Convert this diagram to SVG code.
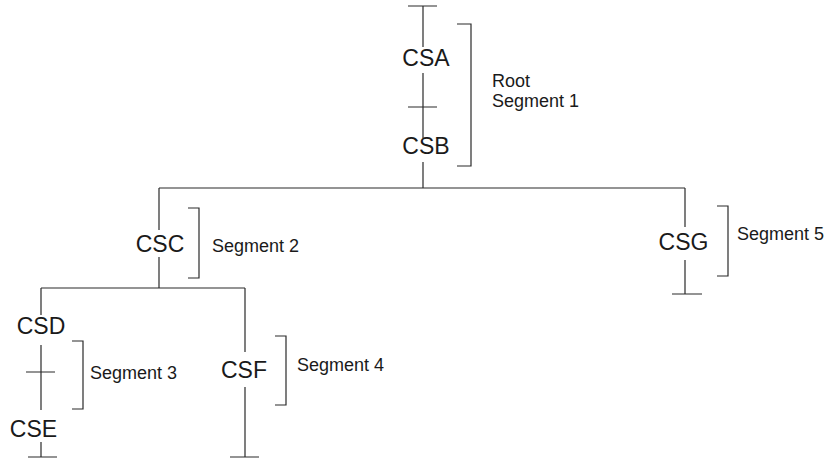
<svg xmlns="http://www.w3.org/2000/svg" width="828" height="459" viewBox="0 0 828 459">
<style>
.ln{stroke:#2a2a2a;stroke-width:1.2;fill:none}
.br{stroke:#2a2a2a;stroke-width:1.2;fill:none}
.nd{font-family:"Liberation Sans",Arial,sans-serif;font-size:23px;fill:#1a1a1a;text-anchor:middle}
.lb{font-family:"Liberation Sans",Arial,sans-serif;font-size:18px;fill:#1a1a1a}
</style>
<rect width="828" height="459" fill="#ffffff"/>
<g id="connectors">
<path class="ln" d="M408,6H437M423,6V47M423,73V138M408,107H437M423,162V188"/>
<path class="ln" d="M159,188H685M159,188V230M685,188V227"/>
<path class="ln" d="M159,257V288M41,288H245M41,288V315M245,288V352"/>
<path class="ln" d="M41,345V410M26,372H55M41,442V457M28,457H57"/>
<path class="ln" d="M245,387V457M230,457H259"/>
<path class="ln" d="M685,260V294M672,294H702"/>
</g>
<g id="node-CSA"><text class="nd" x="426" y="66">CSA</text></g>
<g id="node-CSB"><text class="nd" x="426" y="154">CSB</text></g>
<g id="node-CSC"><text class="nd" x="160" y="252">CSC</text></g>
<g id="node-CSD"><text class="nd" x="41" y="334">CSD</text></g>
<g id="node-CSE"><text class="nd" x="33.5" y="437">CSE</text></g>
<g id="node-CSF"><text class="nd" x="244" y="378">CSF</text></g>
<g id="node-CSG"><text class="nd" x="683.5" y="250">CSG</text></g>
<g id="segment-1">
<path class="br" d="M457,24H471V166H457"/>
<text class="lb" x="492" y="87">Root</text>
<text class="lb" x="492" y="107">Segment 1</text>
</g>
<g id="segment-2">
<path class="br" d="M188,208H199V278H188"/>
<text class="lb" x="212" y="252">Segment 2</text>
</g>
<g id="segment-3">
<path class="br" d="M72,341H83V409H72"/>
<text class="lb" x="90" y="379">Segment 3</text>
</g>
<g id="segment-4">
<path class="br" d="M275,336H286V405H275"/>
<text class="lb" x="297" y="371">Segment 4</text>
</g>
<g id="segment-5">
<path class="br" d="M717,206H728V276H717"/>
<text class="lb" x="737" y="240">Segment 5</text>
</g>
</svg>
